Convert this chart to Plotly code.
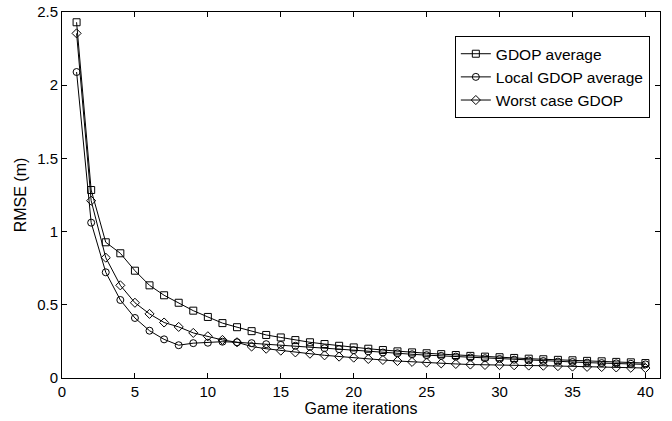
import plotly.graph_objects as go

iterations = list(range(1, 41))
gdop_average = [2.43, 1.284, 0.927, 0.852, 0.733, 0.633, 0.565, 0.514, 0.46, 0.417,
                0.375, 0.347, 0.32, 0.294, 0.277, 0.259, 0.244, 0.232, 0.22, 0.209,
                0.2, 0.191, 0.182, 0.175, 0.169, 0.163, 0.157, 0.151, 0.146, 0.142,
                0.137, 0.132, 0.128, 0.124, 0.121, 0.117, 0.114, 0.11, 0.107, 0.102]
local_gdop_average = [2.09, 1.061, 0.722, 0.533, 0.41, 0.323, 0.264, 0.224, 0.238, 0.241,
                      0.248, 0.244, 0.238, 0.231, 0.226, 0.22, 0.213, 0.204, 0.197, 0.19,
                      0.182, 0.174, 0.169, 0.162, 0.156, 0.151, 0.146, 0.14, 0.135, 0.13,
                      0.125, 0.12, 0.116, 0.112, 0.109, 0.105, 0.102, 0.1, 0.097, 0.093]
worst_case_gdop = [2.354, 1.211, 0.822, 0.633, 0.514, 0.438, 0.379, 0.349, 0.308, 0.285,
                   0.26, 0.244, 0.215, 0.2, 0.187, 0.175, 0.166, 0.155, 0.146, 0.139,
                   0.13, 0.123, 0.116, 0.11, 0.105, 0.1, 0.096, 0.092, 0.089, 0.088,
                   0.087, 0.085, 0.084, 0.081, 0.078, 0.076, 0.075, 0.072, 0.07, 0.068]

series = [
    ("GDOP average", gdop_average, "square-open"),
    ("Local GDOP average", local_gdop_average, "circle-open"),
    ("Worst case GDOP", worst_case_gdop, "diamond-open"),
]

fig = go.Figure()
for name, vals, sym in series:
    fig.add_trace(go.Scatter(
        x=iterations, y=vals, name=name, mode="lines+markers",
        line=dict(color="black", width=1),
        marker=dict(symbol=sym, size=7, color="black", line=dict(width=1, color="black")),
    ))

fam = "Liberation Sans, Arial, sans-serif"
tick_font = dict(family=fam, size=15, color="black")
title_font = dict(family=fam, size=16, color="black")
legend_font = dict(family=fam, size=15.5, color="black")
axis_common = dict(
    showgrid=False, zeroline=False, showline=True, linecolor="black", linewidth=1,
    mirror="ticks", ticks="inside", ticklen=5, tickcolor="black", tickfont=tick_font,
    automargin=False,
)
fig.update_layout(
    width=672, height=421,
    margin=dict(l=62, r=12, t=12, b=43),
    paper_bgcolor="white", plot_bgcolor="white",
    font=title_font,
    showlegend=True,
    legend=dict(
        x=0.983, y=0.934, xanchor="right", yanchor="top",
        bordercolor="black", borderwidth=1, bgcolor="white",
        font=legend_font, tracegroupgap=0, itemwidth=30,
    ),
    xaxis=dict(range=[0, 41], tickvals=[0, 5, 10, 15, 20, 25, 30, 35, 40],
               title=dict(text="Game iterations", font=title_font, standoff=0), **axis_common),
    yaxis=dict(range=[0, 2.5], tickvals=[0, 0.5, 1, 1.5, 2, 2.5],
               ticktext=["0", "0.5", "1", "1.5", "2", "2.5"],
               title=dict(text="RMSE (m)", font=title_font, standoff=6), **axis_common),
)

fig.write_html("out.html", config={"displayModeBar": False},
               post_script="document.body.style.margin='0';document.body.style.overflow='hidden';")
